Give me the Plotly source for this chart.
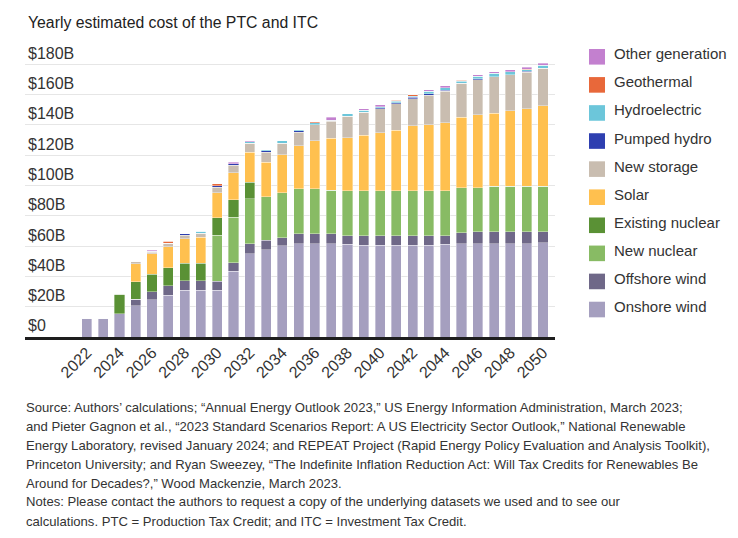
import plotly.graph_objects as go

# ---------------- data (billions of dollars) ----------------
years = list(range(2022, 2051))

onshore_wind = [12.5, 12.5, 15.5, 20.5, 24.6, 27.7, 31.0, 31.0, 31.0, 43.4, 54.9, 57.5, 60.1, 61.5, 61.5,
                61.5, 61.2, 60.7, 60.7, 60.7, 60.7, 60.7, 61.2, 61.5, 61.5, 61.5, 61.5, 61.5, 62.2]
offshore_wind = [0, 0, 0, 4.4, 5.3, 6.2, 6.2, 6.2, 5.9, 5.5, 6.6, 6.2, 5.5, 6.5, 6.5,
                 6.5, 5.7, 6.2, 6.2, 6.2, 6.2, 6.2, 5.7, 7.4, 8.0, 8.0, 8.0, 8.0, 7.3]
new_nuclear = [0, 0, 0, 0, 0, 0, 0, 0, 30.4, 30.1, 29.9, 29.0, 29.7, 29.8, 29.8,
               29.0, 29.7, 29.7, 29.7, 29.7, 29.7, 29.7, 29.7, 29.7, 29.1, 30.0, 30.0, 30.0, 30.0]
existing_nuclear = [0, 0, 12.7, 11.6, 11.5, 11.9, 11.6, 11.6, 11.5, 11.5, 10.6, 0, 0, 0, 0,
                    0, 0, 0, 0, 0, 0, 0, 0, 0, 0, 0, 0, 0, 0]
solar = [0, 0, 0, 11.7, 13.4, 13.8, 15.9, 17.0, 16.5, 18.0, 19.8, 22.5, 25.0, 28.5, 31.7,
         34.2, 35.0, 36.5, 38.2, 40.0, 42.7, 43.4, 44.9, 46.4, 48.2, 48.2, 49.7, 51.2, 53.0]
new_storage = [0, 0, 0.6, 1.8, 1.3, 2.4, 2.6, 2.6, 3.6, 5.0, 6.2, 6.8, 7.7, 8.8, 10.7,
               11.1, 14.1, 15.2, 15.9, 17.2, 18.0, 19.7, 20.7, 22.4, 23.1, 24.0, 24.0, 24.0, 24.8]
pumped_hydro = [0, 0, 0, 0, 0.6, 0, 0.9, 0, 0.8, 0.9, 0, 0.9, 0, 0.9, 0,
                0.9, 0, 0, 0.5, 0.8, 0.8, 0.8, 0.6, 0, 0.6, 0, 0, 0.7, 0]
hydroelectric = [0, 0, 0, 0, 0, 0, 0, 1.4, 0, 0, 0.9, 0.8, 1.5, 0.9, 1.1,
                 0, 1.7, 1.5, 0.9, 0.9, 0.9, 1.8, 1.6, 1.3, 1.6, 2.4, 1.8, 0.9, 2.2]
geothermal = [0, 0, 0, 0, 0, 1.3, 0, 0, 1.3, 0, 0, 0, 0, 0, 0.9,
              0, 0, 0, 0, 0.9, 0.9, 0, 0, 0.9, 0, 0, 0, 0.6, 0]
other_generation = [0, 0, 0, 0, 0.6, 0, 0, 0, 0, 0.9, 0.6, 0, 0, 0, 0,
                    1.7, 0, 0.9, 1.3, 0, 0, 0.9, 1.3, 0, 1.1, 0.9, 1.3, 1.1, 1.1]

series_names = ["Onshore wind", "Offshore wind", "New nuclear", "Existing nuclear", "Solar",
                "New storage", "Pumped hydro", "Hydroelectric", "Geothermal", "Other generation"]
series_values = [onshore_wind, offshore_wind, new_nuclear, existing_nuclear, solar,
                 new_storage, pumped_hydro, hydroelectric, geothermal, other_generation]
series_colors = ["#a59fbf", "#6f6888", "#88bb64", "#5a9135", "#ffc04f",
                 "#c9bdb0", "#2e3fb0", "#6cc6da", "#e8683a", "#c380cf"]

y_ticks = [0, 20, 40, 60, 80, 100, 120, 140, 160, 180]
y_tick_labels = ["$0"] + [f"${v}B" for v in y_ticks[1:]]
x_ticks = years[::2]

title_text = "Yearly estimated cost of the PTC and ITC"
source_lines = [
    "Source: Authors\u2019 calculations; \u201cAnnual Energy Outlook 2023,\u201d US Energy Information Administration, March 2023;",
    "and Pieter Gagnon et al., \u201c2023 Standard Scenarios Report: A US Electricity Sector Outlook,\u201d National Renewable",
    "Energy Laboratory, revised January 2024; and REPEAT Project (Rapid Energy Policy Evaluation and Analysis Toolkit),",
    "Princeton University; and Ryan Sweezey, \u201cThe Indefinite Inflation Reduction Act: Will Tax Credits for Renewables Be",
    "Around for Decades?,\u201d Wood Mackenzie, March 2023.",
    "Notes: Please contact the authors to request a copy of the underlying datasets we used and to see our",
    "calculations. PTC = Production Tax Credit; and ITC = Investment Tax Credit.",
]

# ---------------- layout geometry (page pixel coordinates) ----------------
PAGE_W, PAGE_H = 738, 538
OFF = 8                               # default page body margin
W, H = PAGE_W - 2 * OFF, PAGE_H - 2 * OFF
PL, PR, PT, PB = 25, 555, 38, 337     # plot area in page pixels
Y_MAX = 197.36


def px_x(px):
    return (px - PL) / (PR - PL)


def px_y(py):
    return (PB - py) / (PB - PT)


FONT = "Liberation Sans, Arial, sans-serif"
TXT = "#333333"

fig = go.Figure()
for name, vals, color in zip(series_names, series_values, series_colors):
    fig.add_trace(go.Bar(
        x=years, y=vals, name=name, width=0.62,
        marker=dict(color=color, line=dict(color="rgba(255,255,255,0.6)", width=0.6)),
        showlegend=False,
        hovertemplate=name + " %{x}: $%{y}B<extra></extra>",
    ))

shapes = []
annotations = []

# title
annotations.append(dict(text=title_text, xref="paper", yref="paper", x=px_x(26), y=px_y(22),
                        xanchor="left", yanchor="middle", showarrow=False,
                        font=dict(family=FONT, size=15.8, color="#222222")))

# legend (top to bottom = reverse of stacking order)
leg_top = 56.8
leg_step = 28.08
for i, idx in enumerate(reversed(range(len(series_names)))):
    cy = leg_top + leg_step * i
    shapes.append(dict(type="rect", xref="paper", yref="paper",
                       x0=px_x(589), x1=px_x(605), y0=px_y(cy - 7.8), y1=px_y(cy + 7.8),
                       fillcolor=series_colors[idx], line=dict(width=0)))
    annotations.append(dict(text=series_names[idx], xref="paper", yref="paper",
                            x=px_x(612), y=px_y(cy - 3), xanchor="left", yanchor="middle",
                            showarrow=False, font=dict(family=FONT, size=15, color=TXT)))

# source / notes
for j, line in enumerate(source_lines):
    annotations.append(dict(text=line, xref="paper", yref="paper", x=px_x(24), y=px_y(407 + 19 * j),
                            xanchor="left", yanchor="middle", showarrow=False,
                            font=dict(family=FONT, size=13.1, color=TXT)))

fig.update_layout(
    width=W, height=H,
    margin=dict(l=PL - OFF, r=W - (PR - OFF), t=PT - OFF, b=H - (PB - OFF), pad=0),
    paper_bgcolor="white", plot_bgcolor="white",
    barmode="stack",
    showlegend=False,
    font=dict(family=FONT, color=TXT),
    xaxis=dict(range=[2018.2, 2050.74], tickmode="array", tickvals=x_ticks,
               ticktext=[str(v) for v in x_ticks], tickangle=-45,
               tickfont=dict(family=FONT, size=16, color=TXT), ticklabelstandoff=-3,
               showgrid=False, zeroline=False, showline=True, linecolor="#1e1e1e", linewidth=3,
               ticks="", fixedrange=True),
    yaxis=dict(range=[0, Y_MAX], tickmode="array", tickvals=y_ticks, ticktext=y_tick_labels,
               ticklabelposition="inside top", tickfont=dict(family=FONT, size=16, color=TXT),
               showgrid=True, gridcolor="#e6e6e6", gridwidth=1, zeroline=False, showline=False,
               ticks="", fixedrange=True),
    shapes=shapes,
    annotations=annotations,
)

fig.write_html("out.html")
